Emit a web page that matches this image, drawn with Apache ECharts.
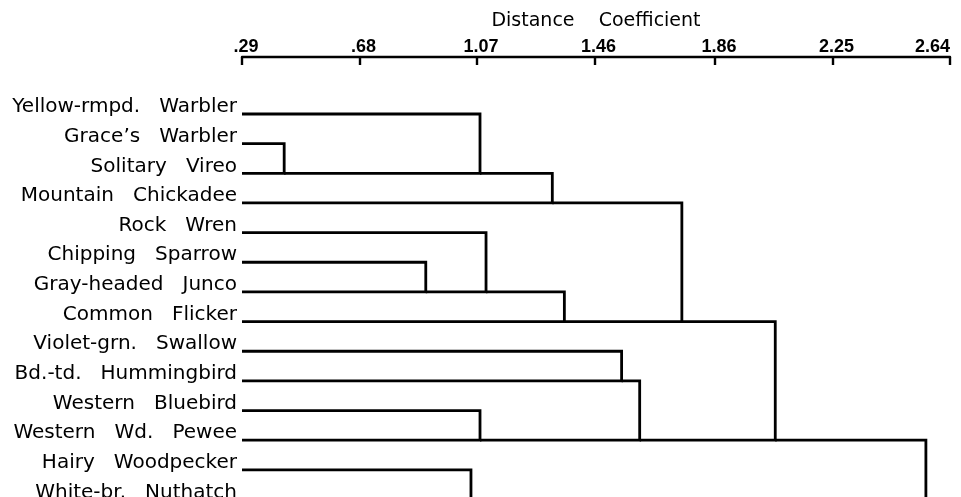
<!DOCTYPE html>
<html>
<head>
<meta charset="utf-8">
<script src="https://cdn.jsdelivr.net/npm/echarts@6/dist/echarts.min.js"></script>
<style>
html,body{margin:0;padding:0;background:#fff;}
#chart{width:961px;height:497px;}
</style>
</head>
<body>
<div id="chart"></div>
<script>
// Leaves, top to bottom
const leaves = [
  'Yellow-rmpd. Warbler',
  'Grace\u2019s Warbler',
  'Solitary Vireo',
  'Mountain Chickadee',
  'Rock Wren',
  'Chipping Sparrow',
  'Gray-headed Junco',
  'Common Flicker',
  'Violet-grn. Swallow',
  'Bd.-td. Hummingbird',
  'Western Bluebird',
  'Western Wd. Pewee',
  'Hairy Woodpecker',
  'White-br. Nuthatch'
];
// Merges: node ids 0..13 are leaves, merge k creates node 14+k
const mergeA = [1, 0, 15, 5, 4, 18, 16, 8, 10, 21, 20, 12, 24];
const mergeB = [2, 14, 3, 6, 17, 7, 19, 9, 11, 22, 23, 13, 25];
const mergeHeight = [0.43, 1.08, 1.32, 0.90, 1.10, 1.36, 1.75, 1.55, 1.08, 1.61, 2.06, 1.05, 2.56];
// Axis ticks
const tickValues = [0.29, 0.68, 1.07, 1.46, 1.86, 2.25, 2.64];
const axisMin = 0.29, axisMax = 2.64;

// Build segments
const nodeX = leaves.map(() => axisMin);
const nodeRow = leaves.map((_, i) => i);
const segData = [];
mergeA.forEach((a, k) => {
  const b = mergeB[k];
  const h = mergeHeight[k];
  let up = a, lo = b;
  if (nodeRow[a] > nodeRow[b]) { up = b; lo = a; }
  segData.push([nodeX[up], nodeRow[up], h, nodeRow[lo], nodeX[lo]]);
  nodeX.push(h);
  nodeRow.push(nodeRow[lo]);
});

const chart = echarts.init(document.getElementById('chart'));
chart.setOption({
  animation: false,
  backgroundColor: '#fff',
  grid: { left: 242, width: 708, top: 114, height: 385.5, containLabel: false, outerBoundsMode: 'none' },
  xAxis: {
    type: 'value',
    position: 'top',
    offset: 57,
    min: axisMin,
    max: axisMax,
    name: 'Distance    Coefficient',
    nameLocation: 'middle',
    nameGap: 26,
    nameTextStyle: { fontFamily: 'DejaVu Sans', fontSize: 19, color: '#000' },
    splitLine: { show: false },
    axisLine: { show: true, lineStyle: { color: '#000', width: 2.4 } },
    axisTick: { show: true, inside: true, length: 8, customValues: tickValues, lineStyle: { color: '#000', width: 2.4 } },
    axisLabel: {
      customValues: tickValues,
      margin: 1,
      fontFamily: 'Liberation Sans',
      fontWeight: 'bold',
      fontSize: 18,
      color: '#000',
      padding: [0, 0, 0, 8],
      alignMaxLabel: 'right',
      formatter: v => v.toFixed(2).replace(/^0/, '')
    }
  },
  yAxis: {
    type: 'category',
    data: leaves,
    inverse: true,
    boundaryGap: false,
    axisLine: { show: false },
    axisTick: { show: false },
    splitLine: { show: false },
    axisLabel: {
      interval: 0,
      margin: 5,
      fontFamily: 'DejaVu Sans',
      fontSize: 20,
      color: '#000',
      verticalAlign: 'bottom',
      lineHeight: 14,
      formatter: s => s.split(' ').join('   ')
    }
  },
  series: [{
    type: 'custom',
    clip: false,
    data: segData,
    renderItem: function (params, api) {
      const p1 = api.coord([api.value(0), api.value(1)]);
      const p2 = api.coord([api.value(2), api.value(1)]);
      const p3 = api.coord([api.value(2), api.value(3)]);
      const p4 = api.coord([api.value(4), api.value(3)]);
      return {
        type: 'polyline',
        shape: { points: [p1, p2, p3, p4] },
        style: { stroke: '#000', lineWidth: 2.8, fill: null, lineJoin: 'miter' }
      };
    }
  }]
});
</script>
</body>
</html>
